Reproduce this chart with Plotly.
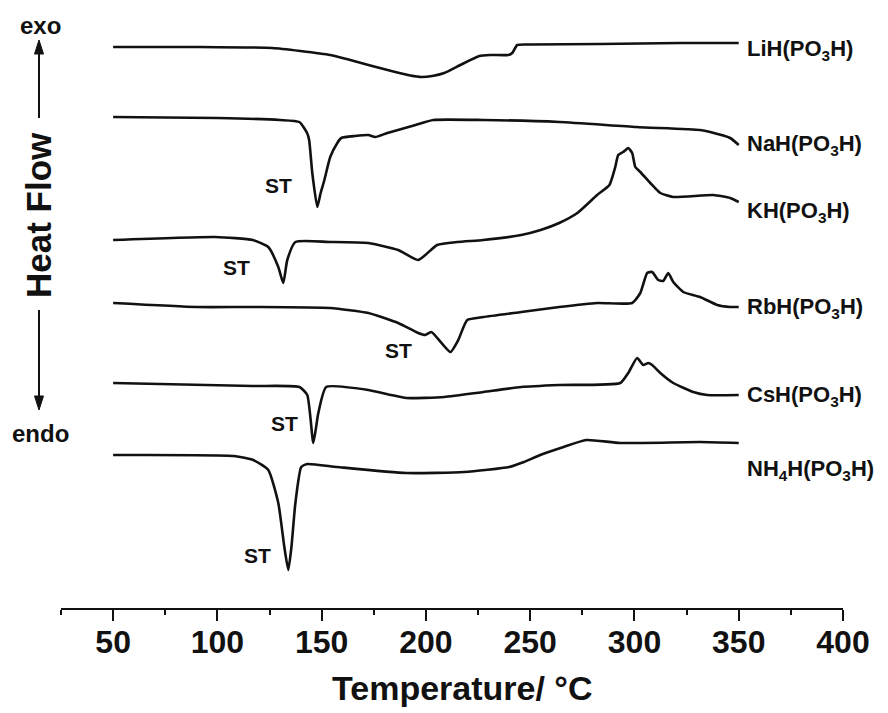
import plotly.graph_objects as go

# DSC traces of the MH(PO3H) phosphonates, stacked with vertical offsets
# (heat flow in arbitrary units, exo up)

li_temp = [50, 91.8, 126.3, 139.8, 154.1, 163.7, 172.4, 185.3, 192.5, 197.8, 203, 208.8,
           216.5, 225.6, 230.8, 239.5, 241.4, 243.8, 250, 283.6, 322, 350]
li_flow = [561, 561, 560, 557, 553, 548, 543, 536, 532.5, 531, 532, 535,
           543, 552, 553, 553, 555, 563, 563.5, 564, 565, 565]

na_temp = [50, 100, 130, 139.3, 143, 144, 145.5, 147.9, 149.5, 151.3, 154.1, 157.5, 159.4,
           166, 172.4, 175.7, 181.5, 195, 203.5, 227.5, 264, 300.8, 331.5, 336.3, 345.9, 350]
na_flow = [491, 490, 488, 486, 475, 468, 435, 401, 415, 428, 451, 465, 470,
           472, 473, 471, 475, 483, 488, 488, 486, 481, 478, 476, 470, 463]

k_temp = [50, 99, 117, 124.4, 129.2, 131.6, 133.5, 137.4, 154, 172.4, 186.7, 196.3, 205.4,
          215, 227.5, 245.7, 255, 263.9, 272.6, 282.1, 288, 290.8, 292.2, 294.6, 297, 298.9,
          300.4, 302.8, 307.6, 312.4, 318.6, 337.8, 345.9, 350]
k_flow = [368, 371, 368, 361, 341, 325, 348, 366, 366, 365, 358, 348, 363,
          366, 368, 373, 378, 385, 395, 413, 423, 441, 453, 456, 460, 455,
          441, 436, 425, 415, 411, 413, 410, 406]

rb_temp = [50, 90, 117, 154, 172.4, 186.7, 196.3, 199.7, 202.6, 211.7, 215.5, 219.8, 227.5,
           245.7, 263.9, 282.1, 298.9, 302.8, 306.1, 308.5, 311.4, 313.8, 316.2, 318.6,
           323.4, 331.5, 339.7, 345.9, 350]
rb_flow = [305, 301, 301, 300, 295, 285, 275, 273, 276, 256, 268, 288, 291,
           296, 301, 305, 305, 315, 335, 336, 328, 327, 335, 326,
           316, 311, 303, 301, 301]

cs_temp = [50, 117, 139.3, 143.1, 146, 148.4, 152.2, 172.4, 183.4, 190.6, 208.8, 227.5,
           245.7, 263.9, 293.2, 297, 301.3, 304.2, 306.6, 308.5, 312.4, 318.6, 328.2,
           334.9, 350]
cs_flow = [225, 222, 221, 213, 165, 195, 221, 218, 213, 210, 211, 216,
           221, 223, 225, 235, 250, 243, 245, 243, 235, 225, 216,
           213, 213]

nh4_temp = [50, 108.1, 117.2, 124.4, 129.2, 132.1, 134, 135.5, 137.4, 140.2, 143.1, 157.5,
            190.6, 218.4, 239.9, 247, 254.8, 266, 276.9, 293.2, 331.5, 350]
nh4_flow = [153, 152, 148, 138, 105, 61, 38, 61, 105, 141, 144, 141,
            135, 136, 141, 146, 153, 161, 168, 165, 166, 165]

series = [
    ("LiH(PO<sub>3</sub>H)", li_temp, li_flow),
    ("NaH(PO<sub>3</sub>H)", na_temp, na_flow),
    ("KH(PO<sub>3</sub>H)", k_temp, k_flow),
    ("RbH(PO<sub>3</sub>H)", rb_temp, rb_flow),
    ("CsH(PO<sub>3</sub>H)", cs_temp, cs_flow),
    ("NH<sub>4</sub>H(PO<sub>3</sub>H)", nh4_temp, nh4_flow),
]

# label anchor heights (same units as the stacked traces)
label_temp = 353
label_flow = [558, 463, 396, 300, 212, 138]

# superionic transition markers
st_temp = [129.2, 109.1, 186.7, 132.1, 119.2]
st_flow = [423, 341, 258, 185, 53]

x_ticks = [50, 100, 150, 200, 250, 300, 350, 400]

FONT = "Liberation Sans, Arial, sans-serif"
INK = "#111111"

fig = go.Figure()
for name, t, f in series:
    fig.add_trace(go.Scatter(x=t, y=f, mode="lines", name=name,
                             line=dict(color=INK, width=2.6, shape="spline", smoothing=0.5),
                             showlegend=False))

ann = []
for (name, _, _), yv in zip(series, label_flow):
    ann.append(dict(x=label_temp, y=yv, xref="x", yref="y", text=name, showarrow=False,
                    xanchor="left", yanchor="middle",
                    font=dict(family=FONT, size=22, color=INK, weight="bold")))
for tx, yv in zip(st_temp, st_flow):
    ann.append(dict(x=tx, y=yv, xref="x", yref="y", text="ST", showarrow=False,
                    xanchor="center", yanchor="middle",
                    font=dict(family=FONT, size=21, color=INK, weight="bold")))

# y-axis legend: exo / Heat Flow / endo with arrows
PL, PW, PH = 61, 782, 608
def px(xp):
    return (xp - PL) / PW
def py(yp):
    return (PH - yp) / PH

ann += [
    dict(x=px(40), y=py(26), xref="paper", yref="paper", text="exo", showarrow=False,
         xanchor="center", yanchor="middle",
         font=dict(family=FONT, size=24, color=INK, weight="bold")),
    dict(x=px(40), y=py(433), xref="paper", yref="paper", text="endo", showarrow=False,
         xanchor="center", yanchor="middle",
         font=dict(family=FONT, size=24, color=INK, weight="bold")),
    dict(x=px(39), y=py(215), xref="paper", yref="paper", text="Heat Flow", showarrow=False,
         textangle=-90, xanchor="center", yanchor="middle",
         font=dict(family=FONT, size=35, color=INK, weight="bold")),
    dict(x=px(462), y=py(688), xref="paper", yref="paper", text="Temperature/ °C",
         showarrow=False, xanchor="center", yanchor="middle",
         font=dict(family=FONT, size=34, color=INK, weight="bold")),
]

# arrow shafts and heads beside the Heat Flow label
shapes = [
    dict(type="line", xref="paper", yref="paper", x0=px(39), x1=px(39), y0=py(118), y1=py(50),
         line=dict(color=INK, width=2)),
    dict(type="path", xref="paper", yref="paper",
         path=f"M {px(39)} {py(40)} L {px(34.5)} {py(54)} L {px(43.5)} {py(54)} Z",
         fillcolor=INK, line=dict(color=INK, width=1)),
    dict(type="line", xref="paper", yref="paper", x0=px(39), x1=px(39), y0=py(310), y1=py(398),
         line=dict(color=INK, width=2)),
    dict(type="path", xref="paper", yref="paper",
         path=f"M {px(39)} {py(410)} L {px(34.5)} {py(396)} L {px(43.5)} {py(396)} Z",
         fillcolor=INK, line=dict(color=INK, width=1)),
]

fig.update_layout(
    width=888, height=713,
    margin=dict(l=PL, r=888 - PL - PW, t=0, b=713 - PH),
    paper_bgcolor="white", plot_bgcolor="white",
    annotations=ann, shapes=shapes,
    xaxis=dict(range=[25, 400], tickvals=x_ticks, ticks="outside", ticklen=11, tickwidth=2,
               tickcolor=INK, showline=True, linecolor=INK, linewidth=2, showgrid=False,
               zeroline=False, ticklabelstandoff=-6,
               tickfont=dict(family=FONT, size=32, color=INK, weight="bold"),
               minor=dict(dtick=25, tick0=0, ticks="outside", ticklen=5, tickwidth=2,
                          tickcolor=INK, showgrid=False)),
    yaxis=dict(range=[0, PH], visible=False),
)

fig.write_html("out.html")
